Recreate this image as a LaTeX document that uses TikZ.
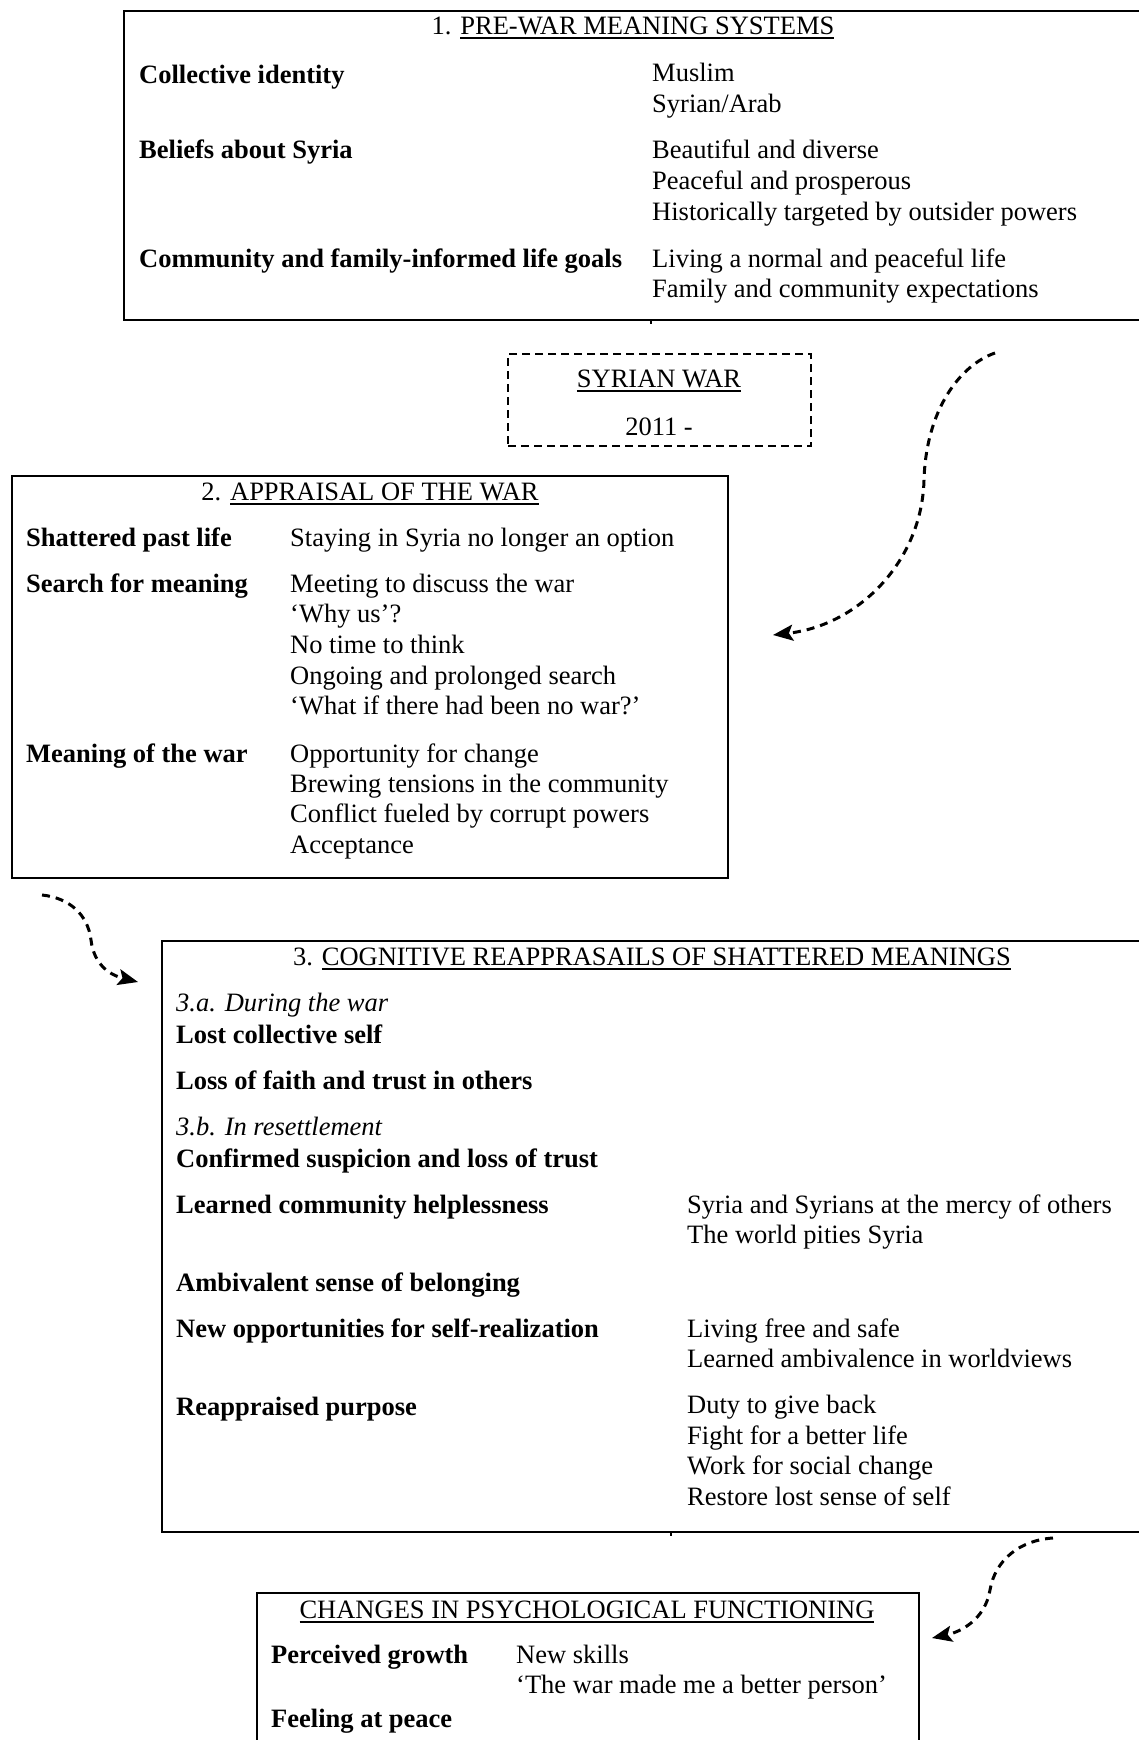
\documentclass[tikz,border=0pt]{standalone}
\usepackage{fontspec}
\setmainfont{Liberation Serif}
\usetikzlibrary{arrows.meta}
\newcommand\fsz{\fontsize{26.5pt}{30.5pt}\selectfont}
\newcommand\myul[1]{\setbox0\hbox{#1}\rlap{\rule[-4.5pt]{\wd0}{1.6pt}}\box0}
\tikzset{
  lbl/.style={anchor=base west, inner sep=0pt, font=\fsz\bfseries},
  itm/.style={anchor=base west, inner sep=0pt, font=\fsz},
  sub/.style={anchor=base west, inner sep=0pt, font=\fsz\itshape},
  ttl/.style={anchor=base, inner sep=0pt, font=\fsz},
  frame/.style={draw, line width=2pt, inner sep=0pt, outer sep=0pt, anchor=north west},
  dframe/.style={frame, line width=2.3pt, dash pattern=on 8pt off 5pt},
  flow/.style={line width=3pt, dash pattern=on 8pt off 6pt, -{Stealth[length=20pt,width=16pt,inset=4pt]}},
  tick/.style={line width=1.2pt}
}
\begin{document}
\begin{tikzpicture}[x=1pt,y=-1pt]
\useasboundingbox[fill=white] (0,0) rectangle (1138,1740);

% ---------- Box 1 ----------
\node[frame, minimum width=1040pt, minimum height=309pt] (b1) at (124,11) {};
\draw[tick] (651,320) -- (651,324);
\node[ttl] (t1) at (633,34) {1. \myul{PRE-WAR MEANING SYSTEMS}};
\node[lbl] (l11) at (139,83) {Collective identity};
\node[lbl] (l12) at (139,158) {Beliefs about Syria};
\node[lbl] (l13) at (139,267) {Community and family-informed life goals};
\node[itm] (i11) at (652,81) {Muslim};
\node[itm] (i12) at (652,112) {Syrian/Arab};
\node[itm] (i13) at (652,158) {Beautiful and diverse};
\node[itm] (i14) at (652,189) {Peaceful and prosperous};
\node[itm] (i15) at (652,220) {Historically targeted by outsider powers};
\node[itm] (i16) at (652,267) {Living a normal and peaceful life};
\node[itm] (i17) at (652,297) {Family and community expectations};

% ---------- Syrian war ----------
\node[dframe, minimum width=303pt, minimum height=92pt] (war) at (508,354) {};
\node[ttl] (w1) at (659,387) {\myul{SYRIAN WAR}};
\node[ttl] (w2) at (659,435) {2011 -};

% ---------- Box 2 ----------
\node[frame, minimum width=716pt, minimum height=402pt] (b2) at (12,476) {};
\node[ttl] (t2) at (370,500) {2. \myul{APPRAISAL OF THE WAR}};
\node[lbl] (l21) at (26,546) {Shattered past life};
\node[lbl] (l22) at (26,592) {Search for meaning};
\node[lbl] (l23) at (26,762) {Meaning of the war};
\node[itm] (i21) at (290,546) {Staying in Syria no longer an option};
\node[itm] (i22) at (290,592) {Meeting to discuss the war};
\node[itm] (i23) at (290,622) {‘Why us’?};
\node[itm] (i24) at (290,653) {No time to think};
\node[itm] (i25) at (290,684) {Ongoing and prolonged search};
\node[itm] (i26) at (290,714) {‘What if there had been no war?’};
\node[itm] (i27) at (290,762) {Opportunity for change};
\node[itm] (i28) at (290,792) {Brewing tensions in the community};
\node[itm] (i29) at (290,822) {Conflict fueled by corrupt powers};
\node[itm] (i2a) at (290,853) {Acceptance};

% ---------- Box 3 ----------
\node[frame, minimum width=1000pt, minimum height=591pt] (b3) at (162,941) {};
\draw[tick] (671,1532) -- (671,1536);
\node[ttl] (t3) at (652,965) {3. \myul{COGNITIVE REAPPRASAILS OF SHATTERED MEANINGS}};
\node[sub] (s31) at (176,1011) {3.a. During the war};
\node[lbl] (l31) at (176,1043) {Lost collective self};
\node[lbl] (l32) at (176,1089) {Loss of faith and trust in others};
\node[sub] (s32) at (176,1135) {3.b. In resettlement};
\node[lbl] (l33) at (176,1167) {Confirmed suspicion and loss of trust};
\node[lbl] (l34) at (176,1213) {Learned community helplessness};
\node[lbl] (l35) at (176,1291) {Ambivalent sense of belonging};
\node[lbl] (l36) at (176,1337) {New opportunities for self-realization};
\node[lbl] (l37) at (176,1415) {Reappraised purpose};
\node[itm] (i31) at (687,1213) {Syria and Syrians at the mercy of others};
\node[itm] (i32) at (687,1243) {The world pities Syria};
\node[itm] (i33) at (687,1337) {Living free and safe};
\node[itm] (i34) at (687,1367) {Learned ambivalence in worldviews};
\node[itm] (i35) at (687,1413) {Duty to give back};
\node[itm] (i36) at (687,1444) {Fight for a better life};
\node[itm] (i37) at (687,1474) {Work for social change};
\node[itm] (i38) at (687,1505) {Restore lost sense of self};

% ---------- Box 4 ----------
\node[frame, minimum width=662pt, minimum height=170pt] (b4) at (257,1593) {};
\node[ttl] (t4) at (587,1618) {\myul{CHANGES IN PSYCHOLOGICAL FUNCTIONING}};
\node[lbl] (l41) at (271,1663) {Perceived growth};
\node[lbl] (l42) at (271,1727) {Feeling at peace};
\node[itm] (i41) at (516,1663) {New skills};
\node[itm] (i42) at (516,1693) {‘The war made me a better person’};

% ---------- Connectors ----------
\coordinate (aS) at (995,353);
\coordinate (aM) at (924,480);
\coordinate (aE) at (773,635);
\draw[flow] (aS) .. controls (960,365) and (926,410) .. (aM)
                 .. controls (922,560) and (860,625) .. (aE);

\coordinate (bS) at (42,895);
\coordinate (bM) at (91,940);
\coordinate (bE) at (138,982);
\draw[flow] (bS) .. controls (70,898) and (88,915) .. (bM)
                 .. controls (94,965) and (110,975) .. (bE);

\coordinate (cS) at (1053,1538);
\coordinate (cM) at (990,1590);
\coordinate (cE) at (932,1638);
\draw[flow] (cS) .. controls (1020,1540) and (995,1560) .. (cM)
                 .. controls (985,1620) and (960,1632) .. (cE);
\end{tikzpicture}
\end{document}
